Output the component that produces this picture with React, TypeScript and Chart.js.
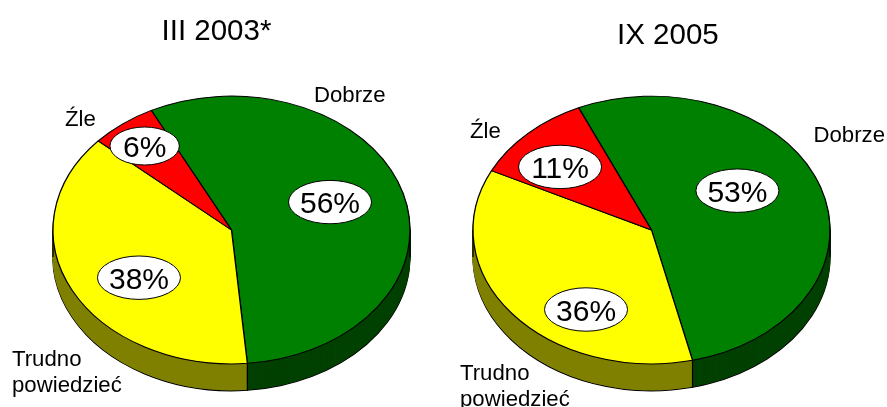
import React, { useEffect, useRef } from "react";
import { Chart, registerables } from "chart.js";

Chart.register(...registerables);

const categories = ["Dobrze", "Trudno\npowiedzieć", "Źle"];
const titleLeft = "III 2003*";
const titleRight = "IX 2005";
const valuesLeft = [56, 38, 6];
const valuesRight = [53, 36, 11];

const topColors = ["#008000", "#FFFF00", "#FF0000"];
const wallColors = ["#004000", "#808000", "#800000"];

const FONT = '"Liberation Sans", Arial, sans-serif';
const SQUASH = 0.75;
const RADIUS = 178.5;
const DEPTH = 27;
const RAW_CY = 200;
const CANVAS_W = 887;
const CANVAS_H = 407;
const LINE = 1.3;

type Layout = {
  title: string;
  values: number[];
  cx: number;
  cy: number;
  rotation: number;
  titleAt: [number, number];
  names: [number, number][];
  pct: { ratio: number; delta: number; rx: number; ry: number }[];
};

const layouts: Layout[] = [
  {
    title: titleLeft,
    values: valuesLeft,
    cx: 231.5,
    cy: 230,
    rotation: -26.7,
    titleAt: [161.5, 39.5],
    names: [[314, 102], [12, 366], [65, 126]],
    pct: [
      { ratio: 0.59, delta: -4.8, rx: 41.5, ry: 21.7 },
      { ratio: 0.629, delta: -7.8, rx: 41.5, ry: 21.7 },
      { ratio: 0.794, delta: -0.3, rx: 34.7, ry: 19 },
    ],
  },
  {
    title: titleRight,
    values: valuesRight,
    cx: 651.5,
    cy: 230,
    rotation: -24.1,
    titleAt: [617, 43.5],
    names: [[813.5, 142], [460, 380], [470, 138]],
    pct: [
      { ratio: 0.564, delta: -12.7, rx: 41.5, ry: 21.7 },
      { ratio: 0.698, delta: -19.8, rx: 41.5, ry: 21.7 },
      { ratio: 0.696, delta: -3.5, rx: 41.5, ry: 21.7 },
    ],
  },
];

function pieProjection(l: Layout) {
  return {
    id: "pieProjection",
    beforeDatasetsDraw(chart: any) {
      const ctx = chart.ctx;
      const arcs = chart.getDatasetMeta(0).data;
      ctx.save();
      ctx.translate(0, l.cy);
      ctx.scale(1, SQUASH);
      ctx.translate(0, -RAW_CY);

      // Side wall: the library's own arcs repeated downwards
      const paint = (arc: any, i: number, d: number, outline: boolean) => {
        const saved = arc.options;
        arc.options = {
          ...saved,
          backgroundColor: wallColors[i],
          borderColor: outline ? "#000" : wallColors[i],
          borderWidth: outline ? LINE : 1,
        };
        ctx.save();
        ctx.translate(0, d / SQUASH);
        arc.draw(ctx);
        ctx.restore();
        arc.options = saved;
      };
      arcs.forEach((a: any, i: number) => paint(a, i, DEPTH, true));
      for (let d = DEPTH - 1; d >= 1; d--) {
        arcs.forEach((a: any, i: number) => paint(a, i, d, false));
      }

      // Vertical edges: silhouette and front slice boundaries
      ctx.strokeStyle = "#000";
      ctx.lineWidth = LINE;
      const edges: number[] = [0, Math.PI];
      arcs.forEach((a: any) => {
        const s = a.startAngle;
        if (Math.sin(s) > 0) edges.push(s);
      });
      edges.forEach((ang) => {
        const x = l.cx + Math.cos(ang) * RADIUS;
        const y = RAW_CY + Math.sin(ang) * RADIUS;
        ctx.beginPath();
        ctx.moveTo(x, y);
        ctx.lineTo(x, y + DEPTH / SQUASH);
        ctx.stroke();
      });
    },
    afterDatasetsDraw(chart: any) {
      const ctx = chart.ctx;
      ctx.restore();
      const arcs = chart.getDatasetMeta(0).data;

      ctx.textBaseline = "alphabetic";
      ctx.fillStyle = "#000";

      // Title
      ctx.textAlign = "left";
      ctx.font = `29.5px ${FONT}`;
      ctx.fillText(l.title, l.titleAt[0], l.titleAt[1]);

      // Category names
      ctx.font = `22.2px ${FONT}`;
      categories.forEach((name, i) => {
        name.split("\n").forEach((line, k) => {
          ctx.fillText(line, l.names[i][0], l.names[i][1] + k * 26);
        });
      });

      // Percent bubbles
      arcs.forEach((arc: any, i: number) => {
        const p = l.pct[i];
        const mid = (arc.startAngle + arc.endAngle) / 2 + (p.delta * Math.PI) / 180;
        const x = l.cx + Math.cos(mid) * RADIUS * p.ratio;
        const y = l.cy + Math.sin(mid) * RADIUS * p.ratio * SQUASH;
        ctx.beginPath();
        ctx.ellipse(x, y, p.rx, p.ry, 0, 0, Math.PI * 2);
        ctx.fillStyle = "#fff";
        ctx.fill();
        ctx.strokeStyle = "#000";
        ctx.lineWidth = 1;
        ctx.stroke();
        ctx.fillStyle = "#000";
        ctx.font = `30px ${FONT}`;
        ctx.textAlign = "center";
        ctx.fillText(`${l.values[i]}%`, x, y + 11);
        ctx.textAlign = "left";
      });
    },
  };
}

function Pie({ layout }: { layout: Layout }) {
  const ref = useRef<HTMLCanvasElement>(null);
  useEffect(() => {
    const left = layout.cx - RADIUS;
    const right = CANVAS_W - (layout.cx + RADIUS);
    const top = RAW_CY - RADIUS;
    const bottom = CANVAS_H - (RAW_CY + RADIUS);
    const chart = new Chart(ref.current!, {
      type: "pie",
      data: {
        labels: categories,
        datasets: [
          {
            data: layout.values,
            backgroundColor: topColors,
            borderColor: "#000",
            borderWidth: LINE,
            clip: false,
          } as any,
        ],
      },
      options: {
        animation: false,
        responsive: false,
        rotation: layout.rotation,
        radius: RADIUS,
        layout: { padding: { left, right, top, bottom } },
        events: [],
        plugins: { legend: { display: false }, tooltip: { enabled: false }, title: { display: false } },
      } as any,
      plugins: [pieProjection(layout)],
    });
    return () => chart.destroy();
  }, [layout]);
  return (
    <canvas
      ref={ref}
      width={CANVAS_W}
      height={CANVAS_H}
      style={{ position: "absolute", left: 0, top: 0, width: CANVAS_W, height: CANVAS_H }}
    />
  );
}

export default function App() {
  return (
    <div style={{ position: "fixed", left: 0, top: 0, width: CANVAS_W, height: CANVAS_H, overflow: "hidden", background: "#fff" }}>
      {layouts.map((l) => (
        <Pie key={l.title} layout={l} />
      ))}
    </div>
  );
}
